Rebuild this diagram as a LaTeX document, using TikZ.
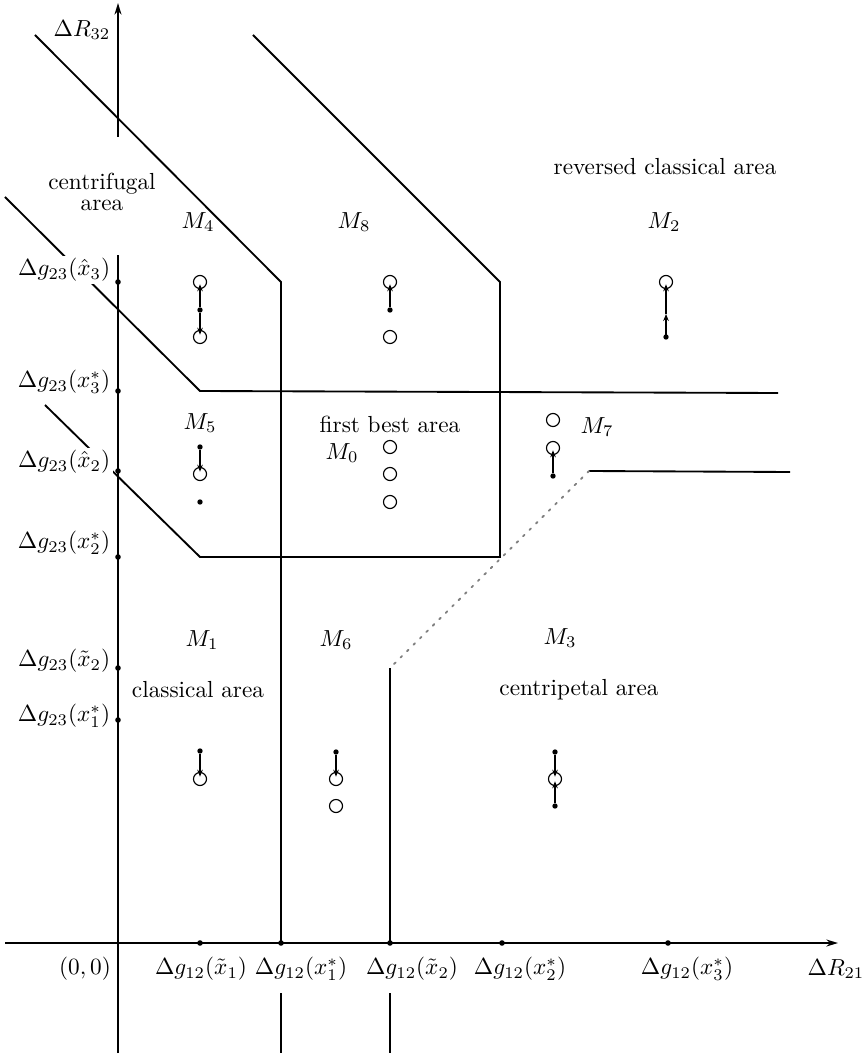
\documentclass[tikz,border=0pt]{standalone}
\usetikzlibrary{arrows.meta}
\begin{document}
\begin{tikzpicture}[x=0.43pt,y=-0.43pt,
  bound/.style={line width=0.8pt},
  axisline/.style={line width=0.8pt},
  axisarrow/.style={line width=0.8pt,-{Stealth[length=5pt,width=3pt]}},
  border/.style={line width=0.8pt,gray,dash pattern=on 0.9pt off 3pt,line cap=round},
  tick/.style={circle,fill,inner sep=0pt,minimum size=2.4pt},
  opt/.style={circle,draw,line width=0.5pt,inner sep=0pt,minimum size=5.6pt},
  eq/.style={circle,fill,inner sep=0pt,minimum size=2.3pt},
  move/.style={line width=0.6pt,-{Stealth[length=3pt,width=2.4pt]},shorten >=1pt},
  ylab/.style={anchor=east,fill=white,inner sep=1pt},
  xlab/.style={inner sep=0.5pt},
  area/.style={inner sep=1pt,align=center}]
\useasboundingbox (0,0) rectangle (864,1057);

% ---- boundaries between the regions ----
\coordinate (a1) at (35,35);   \coordinate (a2) at (281,282);
\coordinate (a3) at (281,943); \coordinate (a4) at (281,993); \coordinate (a5) at (281,1053);
\draw[bound] (a1) -- (a2) -- (a3);
\draw[bound] (a4) -- (a5);

\coordinate (b1) at (253,35);  \coordinate (b2) at (500,282);
\coordinate (b3) at (500,557); \coordinate (b4) at (200,557); \coordinate (b5) at (45,405);
\draw[bound] (b1) -- (b2) -- (b3) -- (b4) -- (b5);

\coordinate (c1) at (5,197); \coordinate (c2) at (200,391); \coordinate (c3) at (778,393);
\draw[bound] (c1) -- (c2) -- (c3);

\coordinate (d1) at (790,472); \coordinate (d2) at (589,471); \coordinate (d3) at (390,668);
\coordinate (d4) at (390,943); \coordinate (d5) at (390,993); \coordinate (d6) at (390,1053);
\draw[bound] (d1) -- (d2);
\draw[border] (d2) -- (d3);
\draw[bound] (d3) -- (d4);
\draw[bound] (d5) -- (d6);

% ---- vertical axis labels ----
\node[ylab] (yl1) at (113,270) {$\Delta g_{23}(\hat{x}_3)$};
\node[ylab] (yl2) at (113,382) {$\Delta g_{23}(x_3^*)$};
\node[ylab] (yl3) at (113,462) {$\Delta g_{23}(\hat{x}_2)$};
\node[ylab] (yl4) at (113,543) {$\Delta g_{23}(x_2^*)$};
\node[ylab] (yl5) at (113,661) {$\Delta g_{23}(\tilde{x}_2)$};
\node[ylab] (yl6) at (113,716) {$\Delta g_{23}(x_1^*)$};

% ---- axes ----
\coordinate (ybot) at (118,1053); \coordinate (ylo) at (118,255);
\coordinate (yhi) at (118,137);   \coordinate (ytop) at (118,3);
\draw[axisline] (ybot) -- (ylo);
\draw[axisarrow] (yhi) -- (ytop);
\coordinate (xleft) at (5,943); \coordinate (xright) at (838,943);
\draw[axisarrow] (xleft) -- (xright);

\node[tick] (ty1) at (118,282) {};
\node[tick] (ty2) at (118,391) {};
\node[tick] (ty3) at (118,471) {};
\node[tick] (ty4) at (118,557) {};
\node[tick] (ty5) at (118,668) {};
\node[tick] (ty6) at (118,720) {};

\node[tick] (tx1) at (200,943) {};
\node[tick] (tx2) at (281,943) {};
\node[tick] (tx3) at (390,943) {};
\node[tick] (tx4) at (502,943) {};
\node[tick] (tx5) at (668,943) {};

\node (yname) at (82,30) {$\Delta R_{32}$};
\node[xlab] (xname) at (836,969) {$\Delta R_{21}$};
\node[xlab] (orig) at (85,969) {$(0,0)$};
\node[xlab] (xl1) at (201,969) {$\Delta g_{12}(\tilde{x}_1)$};
\node[xlab] (xl2) at (301,969) {$\Delta g_{12}(x_1^*)$};
\node[xlab] (xl3) at (412,969) {$\Delta g_{12}(\tilde{x}_2)$};
\node[xlab] (xl4) at (520,969) {$\Delta g_{12}(x_2^*)$};
\node[xlab] (xl5) at (687,969) {$\Delta g_{12}(x_3^*)$};

% ---- region names ----
\node[area] (cf) at (102,192) {centrifugal\\[-3pt]area};
\node[area] (rc) at (665,167) {reversed classical area};
\node[area] (fb) at (390,424) {first best area};
\node[area] (cl) at (198,690) {classical area};
\node[area] (cp) at (579,690) {centripetal area};

\node (m4) at (198,222) {$M_4$};
\node (m8) at (354,222) {$M_8$};
\node (m2) at (664,222) {$M_2$};
\node (m5) at (200,423) {$M_5$};
\node (m7) at (597,427) {$M_7$};
\node (m0) at (342,453) {$M_0$};
\node (m1) at (202,640) {$M_1$};
\node (m6) at (336,640) {$M_6$};
\node (m3) at (560,638) {$M_3$};

% ---- equilibria within each region ----
% M4
\node[opt] (p4a) at (200,282) {};
\node[eq]  (p4b) at (200,310) {};
\node[opt] (p4c) at (200,337) {};
\draw[move] (p4b) -- (p4a.center);
\draw[move] (p4b) -- (p4c.center);
% M8
\node[opt] (p8a) at (390,282) {};
\node[eq]  (p8b) at (390,310) {};
\node[opt] (p8c) at (390,337) {};
\draw[move] (p8b) -- (p8a.center);
% M2
\node[opt] (p2a) at (666,282) {};
\node[eq]  (p2b) at (666,337) {};
\coordinate (p2m) at (666,314);
\draw[move,shorten >=0pt] (p2b.center) -- (p2m);
\draw[move] (p2m) -- (p2a.center);
% M5
\node[eq]  (p5a) at (200,447) {};
\node[opt] (p5b) at (200,474) {};
\node[eq]  (p5c) at (200,502) {};
\draw[move] (p5a) -- (p5b.center);
% M0
\node[opt] (p0a) at (390,447) {};
\node[opt] (p0b) at (390,474) {};
\node[opt] (p0c) at (390,502) {};
% M7
\node[opt] (p7a) at (553,420) {};
\node[opt] (p7b) at (553,448) {};
\node[eq]  (p7c) at (553,476) {};
\draw[move] (p7c) -- (p7b.center);
% M1
\node[eq]  (p1a) at (200,751) {};
\node[opt] (p1b) at (200,779) {};
\draw[move] (p1a) -- (p1b.center);
% M6
\node[eq]  (p6a) at (336,752) {};
\node[opt] (p6b) at (336,779) {};
\node[opt] (p6c) at (336,806) {};
\draw[move] (p6a) -- (p6b.center);
% M3
\node[eq]  (p3a) at (555,752) {};
\node[opt] (p3b) at (555,779) {};
\node[eq]  (p3c) at (555,806) {};
\draw[move] (p3a) -- (p3b.center);
\draw[move] (p3c) -- (p3b.center);
\end{tikzpicture}
\end{document}
